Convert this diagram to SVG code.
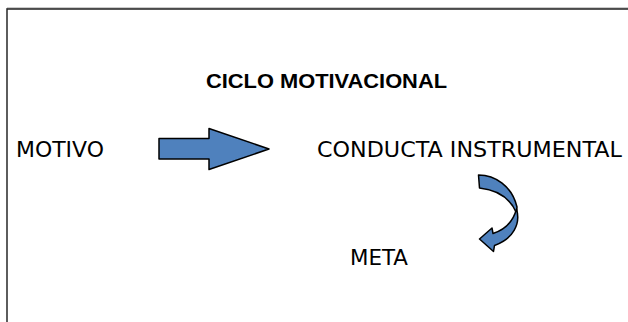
<svg xmlns="http://www.w3.org/2000/svg" width="628" height="322" viewBox="0 0 628 322">
  <style>
    .lbl { font-family: "DejaVu Sans", Verdana, sans-serif; font-size: 21px; fill: #000; }
    .title { font-family: "Liberation Sans", Arial, sans-serif; font-size: 21px; font-weight: bold; fill: #000; }
    .arrow { fill: #4F81BD; stroke: #000; stroke-width: 1.5; stroke-linejoin: round; }
  </style>
  <rect x="0" y="0" width="628" height="322" fill="#fff"/>
  <g id="frame">
    <path d="M7,330 V8 H640" fill="none" stroke="#999" stroke-width="1"/>
    <path d="M7,330 V9 H640" fill="none" stroke="#222" stroke-width="1.3"/>
  </g>
  <g id="title">
    <text class="title" x="206" y="88" textLength="241" lengthAdjust="spacingAndGlyphs">CICLO MOTIVACIONAL</text>
  </g>
  <g id="motivo">
    <text class="lbl" x="16" y="157" textLength="88" lengthAdjust="spacingAndGlyphs">MOTIVO</text>
  </g>
  <g id="conducta">
    <text class="lbl" x="317" y="157" textLength="305" lengthAdjust="spacingAndGlyphs">CONDUCTA INSTRUMENTAL</text>
  </g>
  <g id="meta">
    <text class="lbl" x="350" y="265" textLength="58" lengthAdjust="spacingAndGlyphs">META</text>
  </g>
  <g id="connectors">
    <path class="arrow" d="M159,138.5 H209 V128.5 L269,149 L209,169.5 V159 H159 Z"/>
    <path class="arrow" d="M478.5,175 C495,175 512,186 517,207 L516.5,213 C511,200 499,190 479.5,188 Z"/>
    <path class="arrow" d="M516.5,209 C521,224 513,239 494.5,245.5 L493.5,251.5 L479.5,239 L492,228 L493,233.5 C504,230 513,222 516.5,209 Z"/>
  </g>
</svg>
